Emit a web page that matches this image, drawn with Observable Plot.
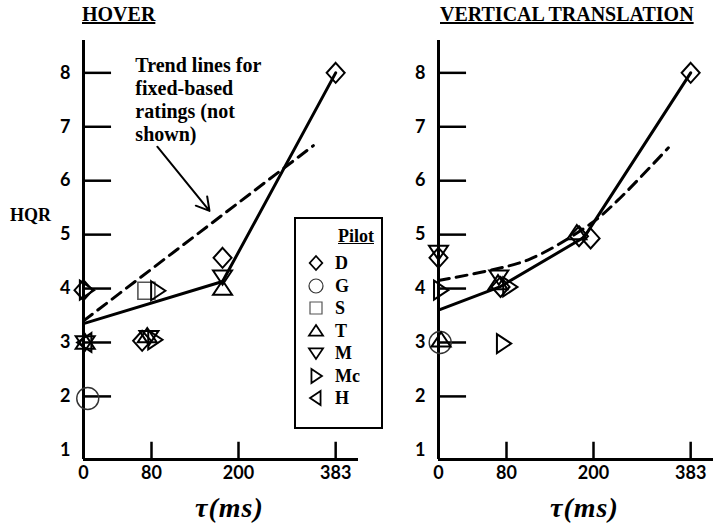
<!DOCTYPE html>
<html><head><meta charset="utf-8">
<script src="https://cdn.jsdelivr.net/npm/d3@7"></script>
<script src="https://cdn.jsdelivr.net/npm/@observablehq/plot@0.6"></script>
<style>
body{margin:0;background:#fff;}
#wrap{position:relative;width:713px;height:525px;overflow:hidden;font-family:"Liberation Serif","Times New Roman",serif;color:#000;}
.abs{position:absolute;white-space:nowrap;}
.title{font-weight:bold;font-size:20px;text-decoration:underline;line-height:1;}
.xlab{font-weight:bold;font-style:italic;font-size:28px;letter-spacing:1px;line-height:1;}
.plotbox{position:absolute;top:0;}
#legend{position:absolute;left:294px;top:217px;width:85px;height:208px;border:2px solid #000;background:#fff;}
#legend .hd{position:absolute;left:42px;top:8px;font-weight:bold;font-size:18px;text-decoration:underline;line-height:1;}
#legend .row{position:absolute;left:0;height:20px;}
#legend .row svg{position:absolute;left:10px;top:0;}
#legend .row span{position:absolute;left:39px;top:1px;font-weight:bold;font-size:18px;line-height:1;}
</style></head><body><div id="wrap"></div>
<script>
// ---------- data ----------
const xTicks = [0, 80, 200, 383];
const yTicks = [1, 2, 3, 4, 5, 6, 7, 8];
const pilots = ["D", "G", "S", "T", "M", "Mc", "H"];

// HOVER ratings
const hoverTau   = [0, 3, 2, 2, 2, 5, 74, 88, 69, 75, 77, 84, 178, 178, 178, 383];
const hoverHqr   = [3.97, 3.97, 3.0, 3.0, 3.0, 1.96, 3.96, 3.96, 3.03, 3.12, 3.1, 3.05, 4.0, 4.22, 4.57, 8.0];
const hoverPilot = ["D", "Mc", "T", "M", "H", "G", "S", "Mc", "D", "T", "M", "Mc", "T", "M", "D", "D"];
const hoverFitTau = [0, 178, 383];
const hoverFitHqr = [3.35, 4.13, 8.0];
const hoverTrendTau = [0, 341];
const hoverTrendHqr = [3.4, 6.65];

// VERTICAL TRANSLATION ratings
const vertTau   = [0, 0, 2, 2, 3, 76, 73, 71, 70, 84, 180, 196, 177, 383];
const vertHqr   = [4.68, 4.57, 3.97, 3.0, 3.04, 2.98, 4.03, 4.22, 4.1, 4.03, 4.97, 4.93, 5.03, 8.0];
const vertPilot = ["M", "D", "Mc", "G", "T", "Mc", "D", "M", "T", "Mc", "D", "D", "T", "D"];
const vertFitTau = [0, 72, 187, 383];
const vertFitHqr = [3.6, 4.03, 4.95, 8.0];
const vertTrendTau = [0, 58, 113, 196, 245, 341];
const vertTrendHqr = [4.15, 4.33, 4.55, 5.2, 5.63, 6.61];

const noteText = "Trend lines for\nfixed-based\nratings (not\nshown)";
const noteArrow = {tau1: 88, hqr1: 6.63, tau2: 160, hqr2: 5.44};

// ---------- symbols ----------
const poly = (pts) => ({draw(ctx, size) {
  const s = Math.sqrt(size / Math.PI);
  ctx.moveTo(pts[0][0] * s, pts[0][1] * s);
  for (let i = 1; i < pts.length; i++) ctx.lineTo(pts[i][0] * s, pts[i][1] * s);
  ctx.closePath();
}});
const symbols = {
  D: poly([[0, -1], [0.9, 0], [0, 1], [-0.9, 0]]),
  G: {draw(ctx, size) { const s = Math.sqrt(size / Math.PI); ctx.moveTo(s, 0); ctx.arc(0, 0, s, 0, 2 * Math.PI); }},
  S: poly([[-1, -1], [1, -1], [1, 1], [-1, 1]]),
  T: poly([[0, -0.85], [1, 0.65], [-1, 0.65]]),
  M: poly([[-1, -0.65], [1, -0.65], [0, 0.85]]),
  Mc: poly([[-0.65, -1], [0.85, 0], [-0.65, 1]]),
  H: poly([[0.65, -1], [-0.85, 0], [0.65, 1]])
};
const symR = {D: 10, G: 11, S: 8.5, T: 9.5, M: 9.5, Mc: 9.5, H: 9.5};
const symStroke = {D: "#000", G: "#333", S: "#555", T: "#000", M: "#000", Mc: "#000", H: "#000"};
const symWidth = {D: 2, G: 1.4, S: 1.6, T: 2, M: 2, Mc: 2, H: 2};
const legR = {D: 7, G: 7, S: 6, T: 7, M: 7, Mc: 7, H: 7};

// ---------- panel ----------
function panel(tau, hqr, pilot, fitTau, fitHqr, trendTau, trendHqr, trendCurve, withNote) {
  const pts = tau.map((t, i) => ({tau: t, hqr: hqr[i], pilot: pilot[i]}));
  const fit = fitTau.map((t, i) => ({tau: t, hqr: fitHqr[i]}));
  const trend = trendTau.map((t, i) => ({tau: t, hqr: trendHqr[i]}));
  const yMin = 0.83;
  const font = {fontFamily: "Lato, 'Open Sans', sans-serif", fontWeight: "bold", fontSize: 18, tickFormat: d => String(d)};
  const marks = [
    Plot.ruleX([0], {stroke: "#000", strokeWidth: 3}),
    Plot.ruleY([yMin], {stroke: "#000", strokeWidth: 3}),
    Plot.ruleY(yTicks.filter(d => d > 1), {y: d => d, x1: 0, x2: 33, stroke: "#000", strokeWidth: 2.5}),
    Plot.ruleX(xTicks.filter(d => d > 0), {x: d => d, y1: yMin, y2: yMin + 0.32, stroke: "#000", strokeWidth: 2.5}),
    Plot.axisY(yTicks, {tickSize: 0, tickPadding: 13, label: null, ...font}),
    Plot.axisX(xTicks, {tickSize: 0, tickPadding: 7, label: null, ...font}),
    Plot.line(trend, {x: "tau", y: "hqr", stroke: "#000", strokeWidth: 3, strokeDasharray: "11,7", curve: trendCurve}),
    Plot.line(fit, {x: "tau", y: "hqr", stroke: "#000", strokeWidth: 3})
  ];
  for (const p of pilots) {
    marks.push(Plot.dot(pts.filter(d => d.pilot === p), {x: "tau", y: "hqr", symbol: symbols[p], r: symR[p], fill: "none", stroke: symStroke[p], strokeWidth: symWidth[p]}));
  }
  if (withNote) {
    marks.push(Plot.text([noteText], {x: 61, y: 8.31, text: d => d, textAnchor: "start", lineAnchor: "top", lineHeight: 1.15, fontFamily: "Liberation Serif", fontWeight: "bold", fontSize: 20, fill: "#000"}));
    marks.push(Plot.arrow([noteArrow], {x1: "tau1", y1: "hqr1", x2: "tau2", y2: "hqr2", stroke: "#000", strokeWidth: 2, headLength: 11}));
  }
  return Plot.plot({
    width: 358, height: 525,
    marginLeft: 83, marginRight: 0, marginTop: 40, marginBottom: 66,
    style: {background: "transparent", overflow: "visible", color: "#000"},
    x: {type: "linear", domain: [0, 80, 200, 426], range: [83, 151, 238, 358]},
    y: {type: "linear", domain: [yMin, 8.6], range: [459, 40]},
    marks
  });
}

const wrap = document.getElementById("wrap");
function place(el, left) { const d = document.createElement("div"); d.className = "plotbox"; d.style.left = left + "px"; d.appendChild(el); wrap.appendChild(d); }
place(panel(hoverTau, hoverHqr, hoverPilot, hoverFitTau, hoverFitHqr, hoverTrendTau, hoverTrendHqr, "linear", true), 0);
place(panel(vertTau, vertHqr, vertPilot, vertFitTau, vertFitHqr, vertTrendTau, vertTrendHqr, "catmull-rom", false), 355);

function label(text, cls, left, top) { const d = document.createElement("div"); d.className = "abs " + cls; d.textContent = text; d.style.left = left + "px"; d.style.top = top + "px"; wrap.appendChild(d); return d; }
label("HOVER", "title", 82, 4);
label("VERTICAL TRANSLATION", "title", 440, 4);
const hqr = label("HQR", "title", 10, 206); hqr.style.textDecoration = "none"; hqr.style.fontSize = "18px";
label("\u03C4(ms)", "xlab", 195, 494);
label("\u03C4(ms)", "xlab", 550, 494);

// legend
const leg = document.createElement("div"); leg.id = "legend"; wrap.appendChild(leg);
const hd = document.createElement("div"); hd.className = "hd"; hd.textContent = "Pilot"; leg.appendChild(hd);
pilots.forEach((p, i) => {
  const row = document.createElement("div"); row.className = "row"; row.style.top = (34 + i * 22.5) + "px";
  const svg = d3.create("svg").attr("width", 20).attr("height", 20);
  const path = d3.path(); symbols[p].draw(path, legR[p] * legR[p] * Math.PI);
  svg.append("path").attr("d", path.toString()).attr("transform", "translate(10,10)")
    .attr("fill", "none").attr("stroke", symStroke[p]).attr("stroke-width", p === "G" || p === "S" ? 1.2 : 1.8);
  row.appendChild(svg.node());
  const sp = document.createElement("span"); sp.textContent = p; row.appendChild(sp);
  leg.appendChild(row);
});
</script></body></html>
